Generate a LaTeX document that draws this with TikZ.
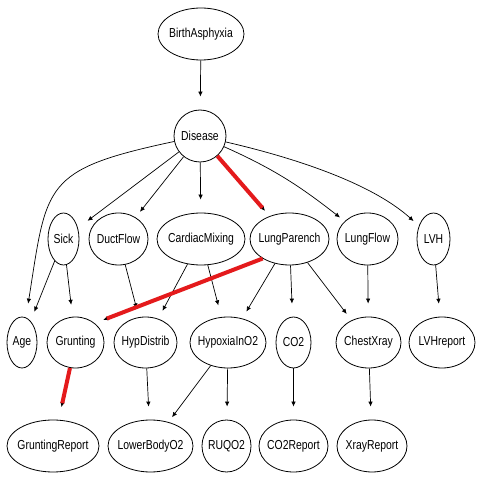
\documentclass[tikz,border=0pt]{standalone}
\usepackage{fontspec}
\setmainfont[FakeStretch=0.8]{Liberation Sans}
\usetikzlibrary{shapes.geometric,arrows.meta}
% zero-width label so the ellipse size is set only by the minimum sizes
\newcommand\nlabel[1]{\makebox[0pt]{#1}}
\begin{document}
\begin{tikzpicture}[x=1pt,y=1pt,
  gnode/.style={draw, ellipse, line width=0.8pt, inner sep=0pt,
    font=\fontsize{13}{13}\selectfont},
  sz/.style 2 args={minimum width=#1pt, minimum height=#2pt},
  edge/.style={line width=0.7pt, -{Latex[length=5pt,width=4.5pt]}},
  hl/.style={line width=4pt, draw={rgb,255:red,228;green,26;blue,28}}]
\useasboundingbox (0,0) rectangle (480,480);
\fill[white] (0,0) rectangle (480,480);

% top
\node[gnode, sz={86}{52}] (ba) at (201,446) {\nlabel{BirthAsphyxia}};
\node[gnode, sz={52}{52}] (disease) at (200,344) {\nlabel{Disease}};
% second row
\node[gnode, sz={31}{52}] (sick) at (63.5,241) {\nlabel{Sick}};
\node[gnode, sz={59}{52}] (ductflow) at (118.5,241) {\nlabel{DuctFlow}};
\node[gnode, sz={88}{52}] (cardiac) at (201,241) {\nlabel{CardiacMixing}};
\node[gnode, sz={79}{52}] (lungpar) at (289.5,241) {\nlabel{LungParench}};
\node[gnode, sz={61}{52}] (lungflow) at (367.5,241) {\nlabel{LungFlow}};
\node[gnode, sz={33}{52}] (lvh) at (433.5,241) {\nlabel{LVH}};
% third row
\node[gnode, sz={30}{51}] (age) at (22,137.5) {\nlabel{Age}};
\node[gnode, sz={57}{51}] (grunting) at (75.5,137.5) {\nlabel{Grunting}};
\node[gnode, sz={63}{51}] (hypdistrib) at (145.5,137.5) {\nlabel{HypDistrib}};
\node[gnode, sz={76}{51}] (hypoxia) at (228,137.5) {\nlabel{HypoxiaInO2}};
\node[gnode, sz={35}{51}] (co2) at (293.5,137.5) {\nlabel{CO2}};
\node[gnode, sz={65}{51}] (chestx) at (368.5,137.5) {\nlabel{ChestXray}};
\node[gnode, sz={66}{51}] (lvhrep) at (442,137.5) {\nlabel{LVHreport}};
% bottom row
\node[gnode, sz={92}{52}] (gruntrep) at (53,34) {\nlabel{GruntingReport}};
\node[gnode, sz={85}{52}] (lowerbody) at (150.5,34) {\nlabel{LowerBodyO2}};
\node[gnode, sz={49}{52}] (ruqo2) at (226.5,34) {\nlabel{RUQO2}};
\node[gnode, sz={69}{52}] (co2rep) at (293.5,34) {\nlabel{CO2Report}};
\node[gnode, sz={70}{52}] (xrayrep) at (372,34) {\nlabel{XrayReport}};

% edges
\draw[edge, shorten >=13pt] (ba) -- (disease);
\draw[edge, shorten >=14pt] (disease) to[out=192,in=81,looseness=1.5] (age);
\draw[edge, shorten >=12pt] (disease) -- (sick);
\draw[edge, shorten >=7pt] (disease) -- (ductflow);
\draw[edge, shorten >=13pt] (disease) -- (cardiac);
\draw[edge, shorten >=7pt] (disease) -- (lungpar);
\draw[hl, shorten >=11pt] (disease) -- (lungpar);
\draw[edge, shorten >=6pt] (disease) to[out=-24,in=142] (lungflow);
\draw[edge, shorten >=7pt] (disease) to[out=-13,in=138,looseness=0.8] (lvh);

\draw[edge, shorten >=10pt] (sick) -- (age);
\draw[edge, shorten >=12pt] (sick) -- (grunting);
\draw[edge, shorten >=9pt] (ductflow) -- (hypdistrib);
\draw[edge, shorten >=9pt] (cardiac) -- (hypdistrib);
\draw[edge, shorten >=12pt] (cardiac) -- (hypoxia);
\draw[edge, shorten >=8pt] (lungpar) -- (hypoxia);
\draw[edge, shorten >=13pt] (lungpar) -- (co2);
\draw[edge, shorten >=8pt] (lungpar) -- (chestx);
\draw[edge, shorten >=13pt] (lungflow) -- (chestx);
\draw[edge, shorten >=13pt] (lvh) -- (lvhrep);
\draw[edge, shorten >=9pt] (lungpar.216) -- (grunting.45);
\draw[hl, shorten >=13pt] (lungpar.216) -- (grunting.45);

\draw[edge, shorten >=13pt] (grunting) -- (gruntrep);
\draw[hl, shorten >=17pt] (grunting) -- (gruntrep);
\draw[edge, shorten >=13pt] (hypdistrib) -- (lowerbody);
\draw[edge, shorten >=6pt] (hypoxia) -- (lowerbody);
\draw[edge, shorten >=13pt] (hypoxia) -- (ruqo2);
\draw[edge, shorten >=13pt] (co2) -- (co2rep);
\draw[edge, shorten >=13pt] (chestx) -- (xrayrep);
\end{tikzpicture}
\end{document}
